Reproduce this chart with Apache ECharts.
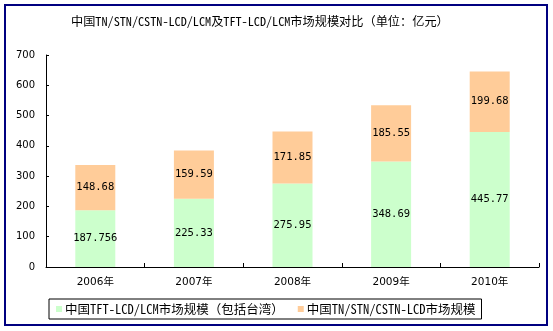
<!DOCTYPE html>
<html>
<head>
<meta charset="utf-8">
<script src="https://cdn.jsdelivr.net/npm/echarts@6/dist/echarts.min.js"></script>
<style>html,body{margin:0;padding:0;background:#fff;}#c{width:553px;height:331px;}</style>
</head>
<body>
<div id="c"></div>
<script>
var titleText = '中国TN/STN/CSTN-LCD/LCM及TFT-LCD/LCM市场规模对比（单位：亿元）';
var categories = ['2006年', '2007年', '2008年', '2009年', '2010年'];
var seriesNames = ['中国TFT-LCD/LCM市场规模（包括台湾）', '中国TN/STN/CSTN-LCD市场规模'];
var tftValues = [187.756, 225.33, 275.95, 348.69, 445.77];
var tnValues = [148.68, 159.59, 171.85, 185.55, 199.68];
var yMin = 0, yMax = 700, yStep = 100;

var monoCJK = '"Noto Sans Mono CJK SC", "DejaVu Sans Mono", "Noto Sans CJK SC", monospace';
var chart = echarts.init(document.getElementById('c'), null, {renderer: 'canvas'});
chart.setOption({
  animation: false,
  backgroundColor: '#ffffff',
  title: {
    text: titleText,
    left: 71, top: 14, padding: 0,
    textStyle: {fontFamily: monoCJK, fontSize: 12.2, fontWeight: 'normal', color: '#000', lineHeight: 14}
  },
  graphic: [{
    type: 'rect', shape: {x: 5, y: 5, width: 542, height: 320},
    style: {fill: 'none', stroke: '#000080', lineWidth: 2}, silent: true, z: 100
  }],
  legend: {
    left: 49, top: 299,
    padding: [3, 6, 3, 7],
    borderColor: '#000', borderWidth: 1,
    itemWidth: 6, itemHeight: 6, itemGap: 14,
    icon: 'rect',
    textStyle: {fontFamily: monoCJK, fontSize: 12.5, color: '#000', padding: [0, 0, 0, -2], lineHeight: 14},
    data: seriesNames
  },
  grid: {left: 46, right: 14, top: 55, bottom: 64, containLabel: false},
  xAxis: {
    type: 'category', data: categories,
    axisLine: {lineStyle: {color: '#000', width: 1}},
    axisTick: {show: true, inside: true, length: 4, lineStyle: {color: '#000'}},
    axisLabel: {fontFamily: 'DejaVu Sans, Noto Sans CJK SC', fontSize: 10.5, color: '#000', margin: 10}
  },
  yAxis: {
    type: 'value', min: yMin, max: yMax, interval: yStep,
    axisLine: {show: true, lineStyle: {color: '#000', width: 1}},
    axisTick: {show: true, inside: true, length: 3, lineStyle: {color: '#000'}},
    splitLine: {show: false},
    axisLabel: {fontFamily: 'DejaVu Sans', fontSize: 10, color: '#000', margin: 11}
  },
  series: [{
    name: seriesNames[0], type: 'bar', stack: 's', data: tftValues,
    barWidth: 40,
    itemStyle: {color: '#ccffcc'},
    label: {show: true, position: 'inside', fontFamily: '"DejaVu Sans Mono", monospace', fontSize: 10.5, color: '#000'}
  }, {
    name: seriesNames[1], type: 'bar', stack: 's', data: tnValues,
    barWidth: 40,
    itemStyle: {color: '#ffcc99'},
    label: {show: true, position: 'inside', fontFamily: '"DejaVu Sans Mono", monospace', fontSize: 10.5, color: '#000'}
  }]
});
</script>
</body>
</html>
